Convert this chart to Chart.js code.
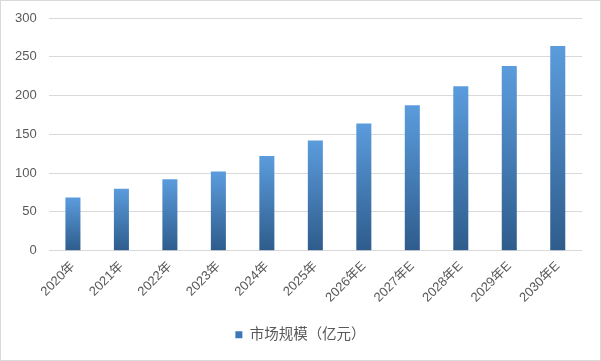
<!DOCTYPE html>
<html><head><meta charset="utf-8">
<script src="https://cdn.jsdelivr.net/npm/chart.js@4"></script>
<style>
html,body{margin:0;padding:0;background:#fff;}
#wrap{position:relative;width:599px;height:359px;border:1px solid #D9D9D9;}
</style></head>
<body><div id="wrap"><canvas id="c" width="599" height="359"></canvas></div>
<script>
const categories = ["2020年","2021年","2022年","2023年","2024年","2025年","2026年E","2027年E","2028年E","2029年E","2030年E"];
const seriesName = "市场规模（亿元）";
const marketSize = [68.5, 80, 92, 102, 122, 142, 164, 187.5, 212, 238, 264];
const yTicks = [0, 50, 100, 150, 200, 250, 300];

const FONT = "'Liberation Sans','Noto Sans CJK SC',sans-serif";
function grad(ctx){
  const ch = ctx.chart, a = ch.chartArea;
  if(!a || ctx.type !== 'data') return '#4A8AD0';
  const y = ch.scales.y;
  const top = y.getPixelForValue(ctx.raw), bot = y.getPixelForValue(0);
  const g = ch.ctx.createLinearGradient(0, top, 0, bot);
  g.addColorStop(0, '#5B9CDD');
  g.addColorStop(1, '#2E5C8C');
  return g;
}
const shiftLegend = { id: 'shiftLegend', afterLayout(chart){ if(chart.legend){ chart.legend.left += 8; chart.legend.right += 8; } } };
new Chart(document.getElementById('c'), {
  type: 'bar',
  data: { labels: categories, datasets: [{ label: seriesName, data: marketSize,
    backgroundColor: grad, barPercentage: 0.62, categoryPercentage: 0.5 }]},
  plugins: [shiftLegend],
  options: {
    responsive: false, animation: false,
    layout: { padding: { top: 5, right: 18, left: 2, bottom: 8 } },
    plugins: {
      legend: { position: 'bottom', labels: { boxWidth: 7, boxHeight: 7, color: '#595959',
        font: { family: FONT, size: 14.5 }, padding: 22,
        generateLabels: (ch) => [{ text: seriesName, fillStyle: '#3C78B8', strokeStyle: '#3C78B8', lineWidth: 0, datasetIndex: 0, fontColor: '#595959' }] } },
      tooltip: { enabled: false }
    },
    scales: {
      x: { grid: { display: false }, border: { display: false },
        ticks: { color: '#595959', font: { family: FONT, size: 13 }, minRotation: 45, maxRotation: 45, padding: 0 } },
      y: { min: 0, max: 300, afterBuildTicks: (s) => { s.ticks = yTicks.map(v => ({ value: v })); },
        afterFit: (s) => { s.paddingTop = 17; },
        grid: { color: '#D9D9D9', drawTicks: false }, border: { display: false },
        ticks: { color: '#595959', font: { family: FONT, size: 13 }, padding: 12 } }
    }
  }
});
</script></body></html>
